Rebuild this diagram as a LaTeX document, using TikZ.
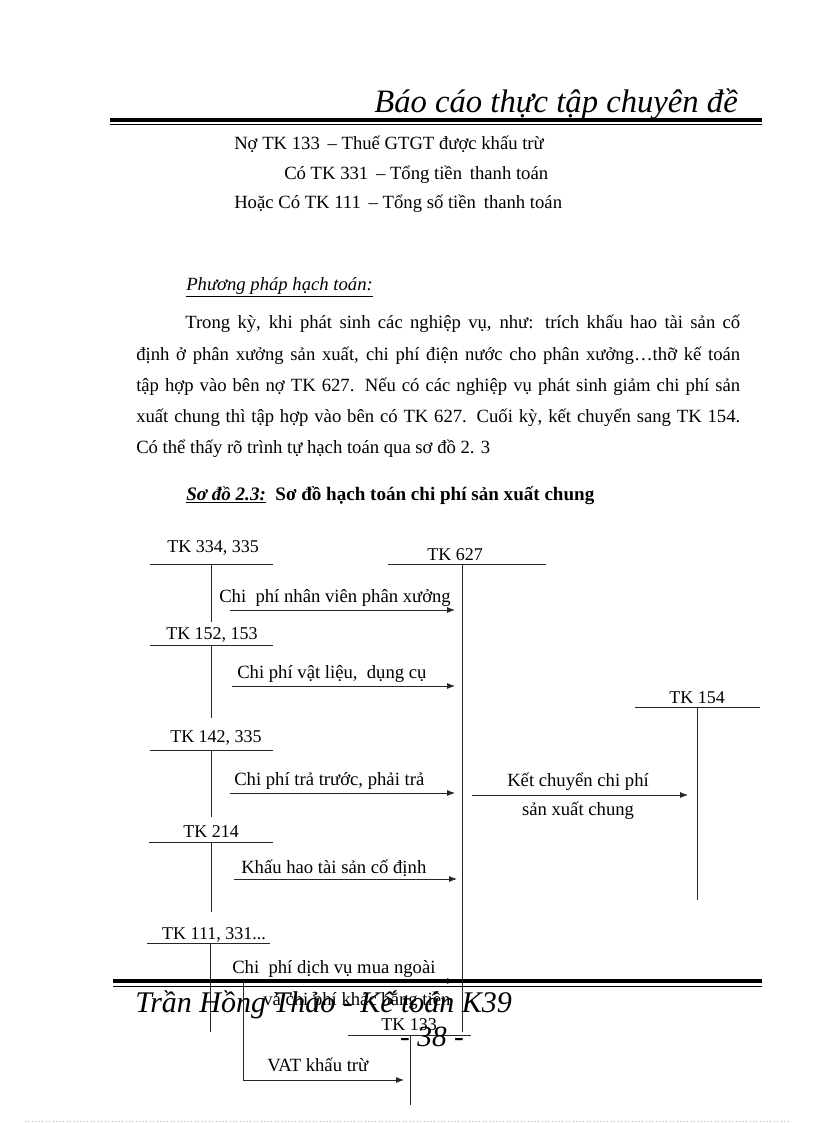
\documentclass[tikz,border=0pt]{standalone}
\usepackage{fontspec}
\setmainfont{Liberation Serif}
\usetikzlibrary{positioning, arrows.meta}

\begin{document}
\begin{tikzpicture}[x=0.75pt, y=-0.75pt,
    bodyline/.style={anchor=base west, inner sep=0pt, font=\fontsize{14}{16}\selectfont},
    tkname/.style={anchor=base, inner sep=0pt, font=\fontsize{13.5}{16}\selectfont},
    flowtext/.style={anchor=base west, inner sep=0pt, font=\fontsize{14}{16}\selectfont},
    tkline/.style={line width=0.6pt, draw=black!85},
    flow/.style={line width=0.6pt, draw=black!85, -{Latex[length=6pt, width=4.5pt]}},
    pagerule/.style={line width=2.5pt},
    thinrule/.style={line width=0.5pt}
]
\useasboundingbox (0,0) rectangle (816,1123);

% header
\node[anchor=base east, inner sep=0pt, font=\fontsize{24.5}{28}\selectfont\itshape] (title) at (738,113) {Báo cáo thực tập chuyên đề};
\draw[pagerule] (110,120) -- (762,120);
\draw[thinrule] (110,124.5) -- (762,124.5);

% entries
\node[bodyline] (no133) at (234,150) {Nợ TK 133 \,– Thuế GTGT được khấu trừ};
\node[bodyline] (co331) at (284,180) {Có TK 331 \,– Tổng tiền \,thanh toán};
\node[bodyline] (co111) at (234,209) {Hoặc Có TK 111 \,– Tổng số tiền \,thanh toán};

% method
\node[bodyline] (method) at (186,290) {\underline{\itshape Phương pháp hạch toán:}};
\node[bodyline] (para1) at (185,328) {\makebox[416.25pt][s]{Trong kỳ, khi phát sinh các nghiệp vụ, như: trích khấu hao tài sản cố}};
\node[bodyline] (para2) at (136,360) {\makebox[453pt][s]{định ở phân xưởng sản xuất, chi phí điện nước cho phân xưởng…thỡ kế toán}};
\node[bodyline] (para3) at (136,391) {\makebox[453pt][s]{tập hợp vào bên nợ TK 627. Nếu có các nghiệp vụ phát sinh giảm chi phí sản}};
\node[bodyline] (para4) at (136,422) {\makebox[453pt][s]{xuất chung thì tập hợp vào bên có TK 627. Cuối kỳ, kết chuyển sang TK 154.}};
\node[bodyline] (para5) at (136,453) {Có thể thấy rõ trình tự hạch toán qua sơ đồ 2. 3};

\node[bodyline, font=\fontsize{14.3}{16}\selectfont\bfseries] (caption) at (186,500) {\underline{\itshape Sơ đồ 2.3:}\ \ Sơ đồ hạch toán chi phí sản xuất chung};

% T accounts
\foreach \n/\lab/\lx/\ly/\xl/\xr/\yl/\vx/\vb in {
    a/{TK 334, 335}/213/552/150/273/564.5/211.5/622,
    b/{TK 152, 153}/212/639/150/273/645/211.5/718,
    c/{TK 142, 335}/216/742/150/273/750/211.5/817,
    d/{TK 214}/211/837/149/273/842/211.5/912,
    e/{TK 111, 331...}/214/939/147/270/943.5/210.5/1032,
    f/{TK 627}/455/560/388/546/564.5/462/1032,
    g/{TK 154}/697/703/635/760/707/697/900,
    h/{TK 133}/409/1030/348/471/1035.5/410/1105}{
    \node[tkname] (tk\n) at (\lx,\ly) {\lab};
    \coordinate (tk\n-l) at (\xl,\yl);
    \coordinate (tk\n-r) at (\xr,\yl);
    \coordinate (tk\n-t) at (\vx,\yl);
    \coordinate (tk\n-b) at (\vx,\vb);
    \draw[tkline] (tk\n-l) -- (tk\n-r) (tk\n-t) -- (tk\n-b);
}

% flows into TK 627
\coordinate (s1) at (230,610);   \coordinate (e1) at (455,610);
\coordinate (s2) at (232,686);   \coordinate (e2) at (455,686);
\coordinate (s3) at (230,793);   \coordinate (e3) at (455,793);
\coordinate (s4) at (234,879);   \coordinate (e4) at (457,879);
\coordinate (s5) at (243,981);   \coordinate (e5) at (455,981);
\draw[flow] (s1) -- (e1);
\draw[flow] (s2) -- (e2);
\draw[flow] (s3) -- (e3);
\draw[flow] (s4) -- (e4);
\draw[flow] (s5) -- (e5);
\node[flowtext] (f1) at (219,602) {Chi \ phí nhân viên phân xưởng};
\node[flowtext] (f2) at (237,678) {Chi phí vật liệu, \ dụng cụ};
\node[flowtext] (f3) at (234,785) {Chi phí trả trước, phải trả};
\node[flowtext] (f4) at (241,873) {Khấu hao tài sản cố định};
\node[flowtext] (f5) at (232,973) {Chi \ phí dịch vụ mua ngoài};
\node[flowtext] (f6) at (263,1005) {và chi phí khác bằng tiền};

% TK 627 to TK 154
\coordinate (s6) at (472,795);   \coordinate (e6) at (688,795);
\draw[flow] (s6) -- (e6);
\node[tkname, font=\fontsize{14}{16}\selectfont] (k1) at (578,786) {Kết chuyển chi phí};
\node[tkname, font=\fontsize{14}{16}\selectfont] (k2) at (578,815) {sản xuất chung};

% VAT to TK 133
\coordinate (v1) at (243,1080);  \coordinate (e7) at (404,1080);
\draw[flow] (s5) -- (v1) -- (e7);
\node[flowtext] (vat) at (267,1071) {VAT khấu trừ};

% footer
\draw[pagerule] (113,981) -- (762,981);
\draw[thinrule] (113,986) -- (762,986);
\node[anchor=base west, inner sep=0pt, font=\fontsize{22.5}{26}\selectfont\itshape] (author) at (135,1012) {Trần Hồng Thảo - Kế toán K39};
\node[anchor=base, inner sep=0pt, font=\fontsize{22}{26}\selectfont\itshape] (pageno) at (432,1046) {- 38 -};
\draw[black!30, dotted, line width=0.6pt] (25,1121.5) -- (790,1121.5);
\end{tikzpicture}
\end{document}
